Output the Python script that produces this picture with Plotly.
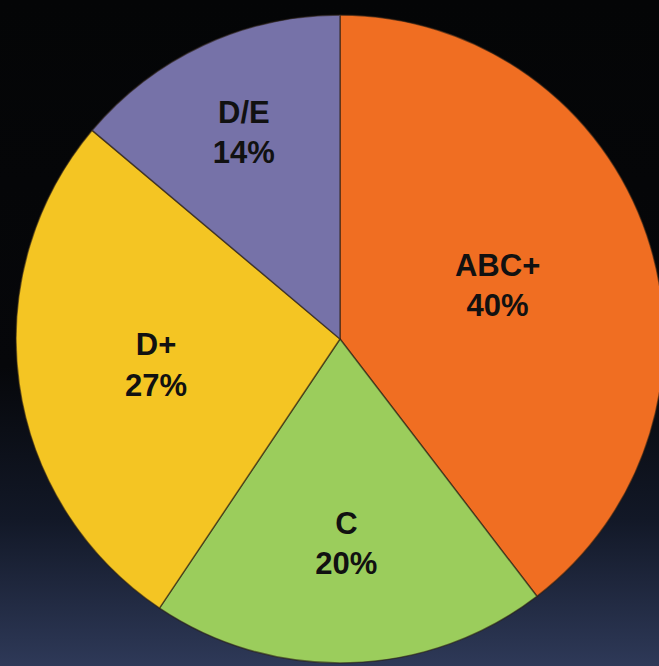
import base64

import plotly.graph_objects as go

labels = ["ABC+", "C", "D+", "D/E"]
shares = [40, 20, 27, 14]
colors = ["#F06E22", "#9BCD5C", "#F4C523", "#7672A8"]

W, H = 668, 666

# vertical dark-to-navy backdrop as an svg data uri
svg = (
    '<svg xmlns="http://www.w3.org/2000/svg" width="100" height="100" preserveAspectRatio="none">'
    '<defs><linearGradient id="g" x1="0" y1="0" x2="0" y2="1">'
    '<stop offset="0" stop-color="#040506"/>'
    '<stop offset="0.55" stop-color="#06070a"/>'
    '<stop offset="0.78" stop-color="#121827"/>'
    '<stop offset="1" stop-color="#2e3958"/>'
    "</linearGradient></defs>"
    '<rect width="100" height="100" fill="url(#g)"/></svg>'
)
bg_uri = "data:image/svg+xml;base64," + base64.b64encode(svg.encode()).decode()

fig = go.Figure(
    go.Pie(
        labels=labels,
        values=shares,
        text=[f"{v}%" for v in shares],
        texttemplate="<b>%{label}<br>%{text}</b>",
        textposition="inside",
        insidetextorientation="horizontal",
        textfont=dict(family="Liberation Sans", size=31, color="#111111"),
        marker=dict(colors=colors, line=dict(color="rgba(40,30,20,0.6)", width=1.5)),
        sort=False,
        direction="clockwise",
        rotation=0,
        showlegend=False,
        domain=dict(x=[16 / W, 664 / W], y=[1 - 663 / H, 1 - 15 / H]),
    )
)

fig.update_layout(
    width=W,
    height=H,
    margin=dict(l=0, r=0, t=0, b=0),
    paper_bgcolor="#050608",
    uniformtext=dict(minsize=31, mode="show"),
    images=[
        dict(
            source=bg_uri,
            xref="paper",
            yref="paper",
            x=0,
            y=1,
            sizex=1,
            sizey=1,
            sizing="stretch",
            xanchor="left",
            yanchor="top",
            layer="below",
        )
    ],
)

fig.write_html(
    "out.html",
    config={"displayModeBar": False},
    post_script="document.body.style.margin='0';document.body.style.overflow='hidden';",
)
